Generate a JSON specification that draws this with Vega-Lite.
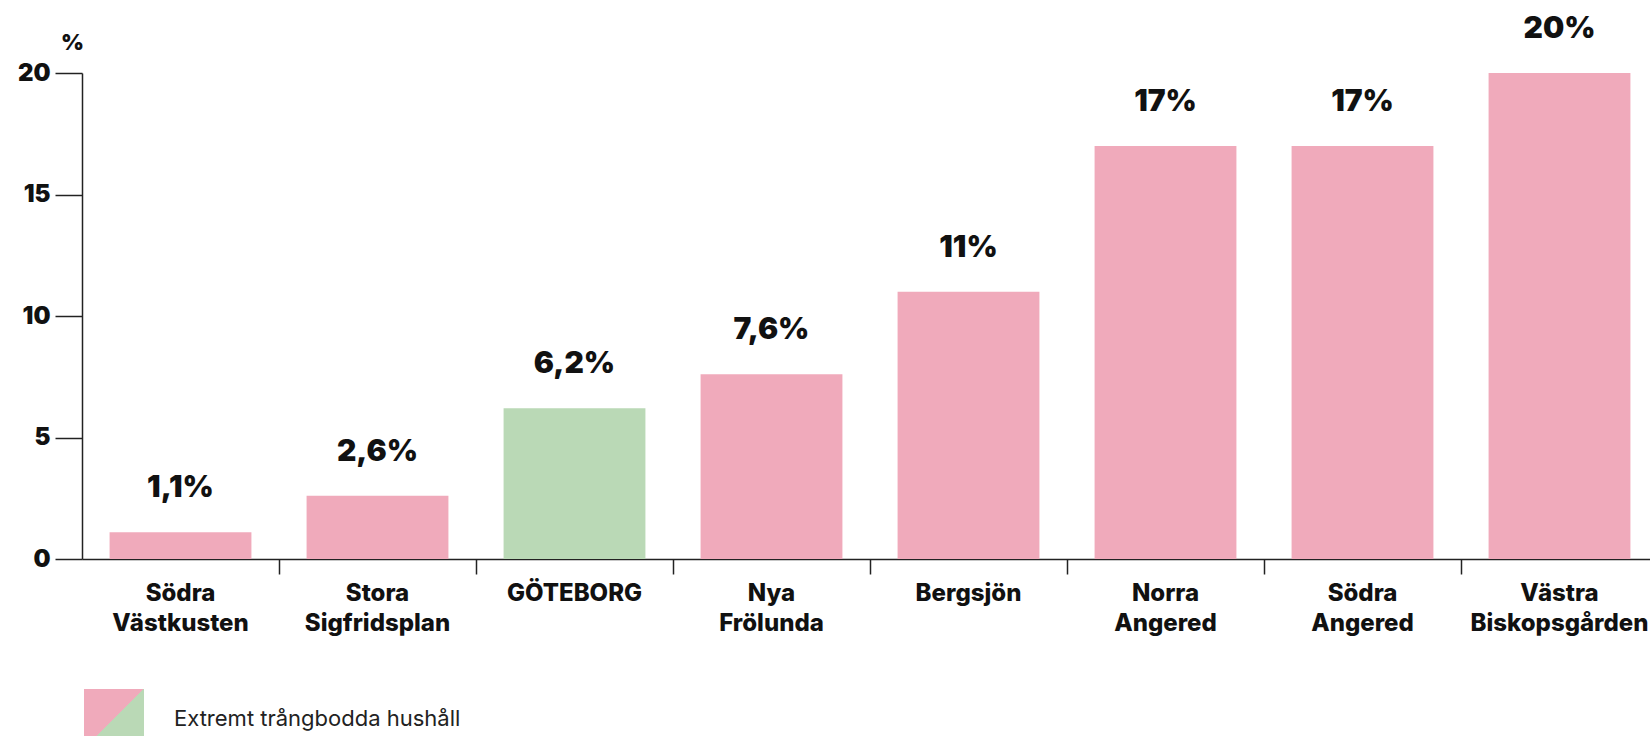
{
  "$schema": "https://vega.github.io/schema/vega-lite/v6.json",
  "autosize": {"type": "none"},
  "padding": {"left": 82, "top": 73, "right": 0, "bottom": 177},
  "width": 1576,
  "height": 486,
  "background": "white",
  "config": {
    "view": {"stroke": null},
    "font": "Inter"
  },
  "data": {
    "values": [
      {"omrade": "Södra Västkusten", "andel": 1.1, "etikett": "1,1%", "typ": "Stadsdel"},
      {"omrade": "Stora Sigfridsplan", "andel": 2.6, "etikett": "2,6%", "typ": "Stadsdel"},
      {"omrade": "GÖTEBORG", "andel": 6.2, "etikett": "6,2%", "typ": "Göteborg"},
      {"omrade": "Nya Frölunda", "andel": 7.6, "etikett": "7,6%", "typ": "Stadsdel"},
      {"omrade": "Bergsjön", "andel": 11, "etikett": "11%", "typ": "Stadsdel"},
      {"omrade": "Norra Angered", "andel": 17, "etikett": "17%", "typ": "Stadsdel"},
      {"omrade": "Södra Angered", "andel": 17, "etikett": "17%", "typ": "Stadsdel"},
      {"omrade": "Västra Biskopsgården", "andel": 20, "etikett": "20%", "typ": "Stadsdel"}
    ]
  },
  "encoding": {
    "x": {
      "field": "omrade",
      "type": "nominal",
      "sort": null,
      "scale": {"paddingInner": 0, "paddingOuter": 0},
      "axis": {
        "title": null,
        "labelAngle": 0,
        "bandPosition": 0,
        "labelExpr": "split(datum.label, ' ')",
        "labelFont": "Inter",
        "labelFontWeight": 800,
        "labelFontSize": 24,
        "labelColor": "#111111",
        "labelLineHeight": 30,
        "labelBaseline": "top",
        "labelPadding": 7,
        "tickSize": 15,
        "tickColor": "#222222",
        "tickWidth": 1.5,
        "tickOpacity": {"condition": {"test": "datum.value === 'Södra Västkusten'", "value": 0}, "value": 1},
        "domainColor": "#222222",
        "domainWidth": 1.5,
        "labelOverlap": false,
        "labelBound": false
      }
    },
    "y": {
      "field": "andel",
      "type": "quantitative",
      "scale": {"domain": [0, 20], "nice": false},
      "axis": {
        "values": [0, 5, 10, 15, 20],
        "grid": false,
        "title": "%",
        "titleAngle": 0,
        "titleX": -10,
        "titleY": -31,
        "titleAlign": "center",
        "titleBaseline": "middle",
        "titleFont": "Inter",
        "titleFontWeight": 900,
        "titleFontSize": 22,
        "titleColor": "#111111",
        "labelFont": "Inter",
        "labelFontWeight": 900,
        "labelFontSize": 24,
        "labelColor": "#111111",
        "labelPadding": 5,
        "tickSize": 27,
        "tickColor": "#222222",
        "tickWidth": 1.5,
        "domainColor": "#222222",
        "domainWidth": 1.5
      }
    }
  },
  "layer": [
    {
      "mark": {"type": "bar", "width": {"band": 0.72}},
      "encoding": {
        "color": {
          "field": "typ",
          "type": "nominal",
          "scale": {"domain": ["Stadsdel", "Göteborg"], "range": ["#f0aabb", "#bad9b6"]},
          "legend": {
            "values": ["Stadsdel"],
            "title": null,
            "orient": "none",
            "legendX": 2,
            "legendY": 616,
            "padding": 0,
            "symbolType": "square",
            "symbolSize": 4,
            "labelOffset": 30,
            "labelLimit": 800,
            "labelExpr": "'Extremt trångbodda hushåll'",
            "labelFont": "Inter",
            "labelFontSize": 22,
            "labelFontWeight": 400,
            "labelColor": "#222222",
            "encode": {
              "symbols": {
                "update": {
                  "stroke": {"value": {"gradient": "linear", "x1": 0, "y1": 0, "x2": 1, "y2": 1, "stops": [
                    {"offset": 0, "color": "#f0aabb"},
                    {"offset": 0.5, "color": "#f0aabb"},
                    {"offset": 0.5, "color": "#bad9b6"},
                    {"offset": 1, "color": "#bad9b6"}
                  ]}},
                  "strokeWidth": {"value": 58},
                  "strokeJoin": {"value": "miter"},
                  "strokeOpacity": {"value": 1}
                }
              }
            }
          }
        }
      }
    },
    {
      "mark": {"type": "text", "baseline": "bottom", "dy": -29, "font": "Inter", "fontWeight": 900, "fontSize": 30, "color": "#111111"},
      "encoding": {"text": {"field": "etikett"}}
    }
  ]
}
